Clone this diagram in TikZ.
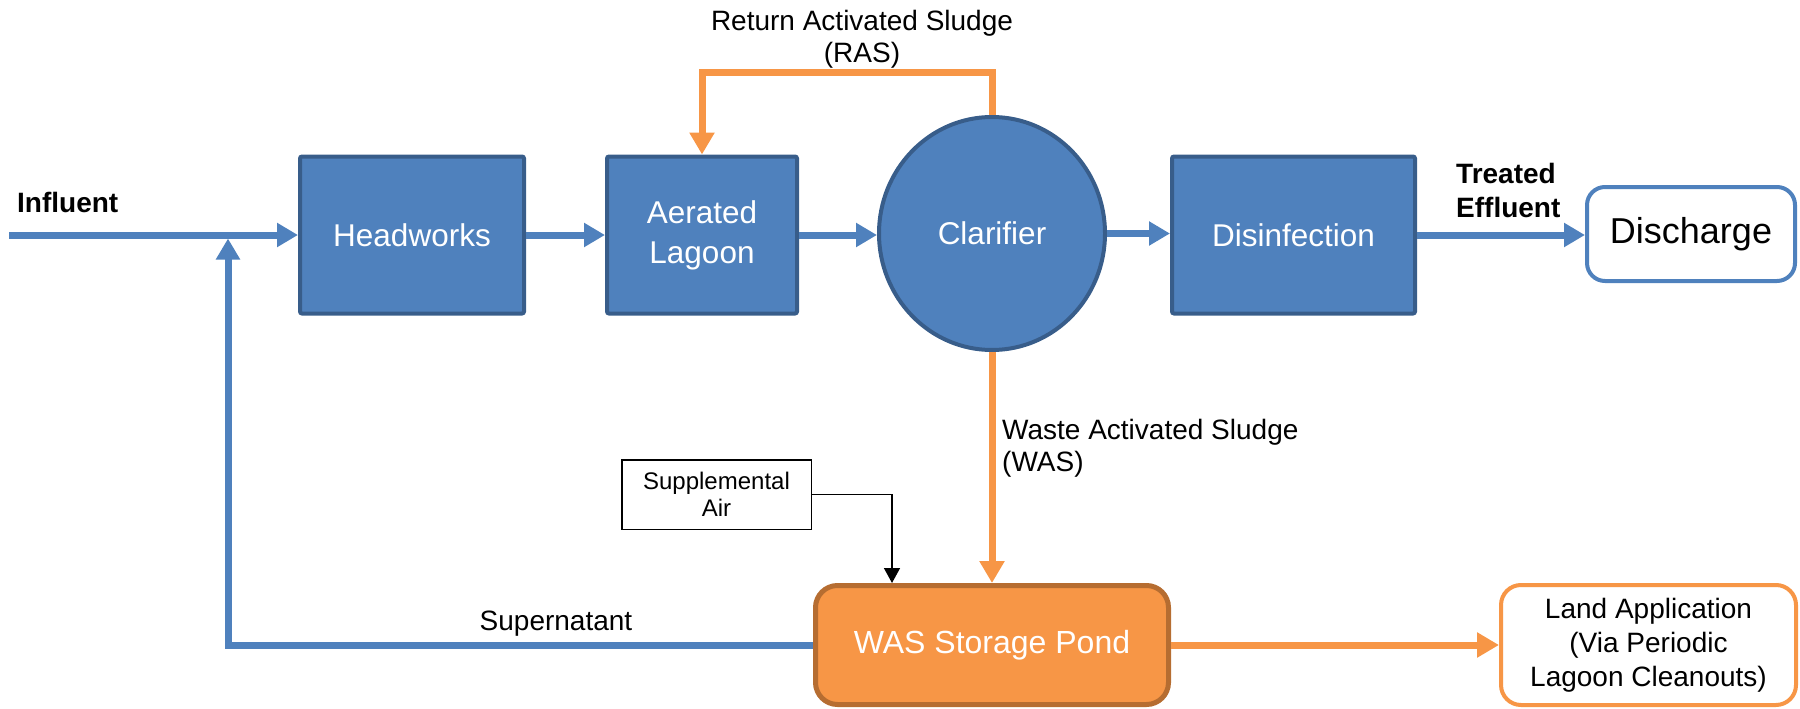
\documentclass[tikz,border=0pt]{standalone}
\usepackage{fontspec}
\setmainfont{Liberation Sans}
\usetikzlibrary{arrows.meta,shapes.geometric}
\definecolor{procblue}{HTML}{4F81BD}
\definecolor{procedge}{HTML}{385D8A}
\definecolor{sludge}{HTML}{F79646}
\definecolor{sludgeedge}{HTML}{B66D31}
\tikzset{
  unit/.style={rectangle, rounded corners=2pt, fill=procblue, draw=procedge,
    line width=4pt, text=white, font=\fontsize{31.5}{40}\selectfont,
    align=center, inner sep=0pt, minimum height=157pt},
  flowtext/.style={font=\fontsize{28}{32}\selectfont, inner sep=0pt, align=center},
  boldtext/.style={font=\bfseries\fontsize{28}{34}\selectfont, inner sep=0pt, align=left},
  outlet/.style={rectangle, rounded corners=20pt, fill=white, line width=4pt,
    inner sep=0pt, align=center},
  blueflow/.style={draw=procblue, line width=7pt,
    -{Triangle[length=21pt,width=23pt]}},
  orangeflow/.style={draw=sludge, line width=7pt,
    -{Triangle[length=22pt,width=24pt]}},
  airflow/.style={draw=black, line width=1.5pt,
    -{Triangle[length=15pt,width=16pt]}},
}
\begin{document}
\begin{tikzpicture}[x=1pt,y=-1pt]
\useasboundingbox (0,0) rectangle (1800,709);

% main treatment train
\node[unit, minimum width=224pt] (hw)  at (412,235)    {Headworks};
\node[unit, minimum width=190pt] (aer) at (702,235)    {Aerated\\Lagoon};
\node[ellipse, fill=procblue, draw=procedge, line width=4pt, text=white,
      font=\fontsize{31.5}{37}\selectfont, inner sep=0pt,
      minimum width=226pt, minimum height=233pt] (clar) at (992,233.5) {Clarifier};
\node[unit, minimum width=243pt] (dis) at (1293.5,235) {Disinfection};
\node[outlet, draw=procblue, rounded corners=18pt, minimum width=208pt,
      minimum height=94pt, font=\fontsize{36}{40}\selectfont] (dsc) at (1691,234) {Discharge};

% sludge handling
\node[rectangle, rounded corners=22pt, fill=sludge, draw=sludgeedge, line width=5pt,
      text=white, font=\fontsize{32}{36}\selectfont, inner sep=0pt,
      minimum width=353pt, minimum height=119pt] (pond) at (992,645) {WAS Storage Pond};
\node[outlet, draw=sludge, minimum width=295pt, minimum height=120pt,
      font=\fontsize{28}{34}\selectfont] (land) at (1648.5,645)
      {Land Application\\(Via Periodic\\Lagoon Cleanouts)};
\node[rectangle, draw=black, line width=1.5pt, inner sep=0pt, align=center,
      font=\fontsize{24}{27}\selectfont, minimum width=189.5pt,
      minimum height=69.5pt] (air) at (716.5,494.5) {Supplemental\\Air};

% free ends of the inflow and the supernatant return
\coordinate (inlet) at (9,235);
\coordinate (merge) at (228,238.5);

% flow connectors
\draw[blueflow] (inlet) -- (inlet -| hw.west);
\draw[blueflow] (hw.east) -- (aer.west);
\draw[blueflow] (aer.east) -- (aer.east -| clar.west);
\draw[blueflow] (clar.east) -- (clar.east -| dis.west);
\draw[blueflow] (dis.east) -- (dis.east -| dsc.west);
\draw[orangeflow] (clar.north) -- ++(0,-42.5) -| (aer.north);
\draw[orangeflow] (clar.south) -- (pond.north);
\draw[orangeflow] (pond.east) -- (land.west);
\draw[blueflow] (pond.west) -| (merge);
\draw[airflow] (air.east) -| ([xshift=-100pt]pond.north);

% stream labels
\node[boldtext, anchor=base west] (lin) at (17,212) {Influent};
\node[boldtext, anchor=west] (leff) at (1456,190) {Treated\\Effluent};
\node[flowtext] (lras) at (862,39) {Return Activated Sludge\\(RAS)};
\node[flowtext, align=left, anchor=west] (lwas) at (1002,448) {Waste Activated Sludge\\(WAS)};
\node[flowtext, anchor=base] (lsup) at (556,630) {Supernatant};
\end{tikzpicture}
\end{document}
